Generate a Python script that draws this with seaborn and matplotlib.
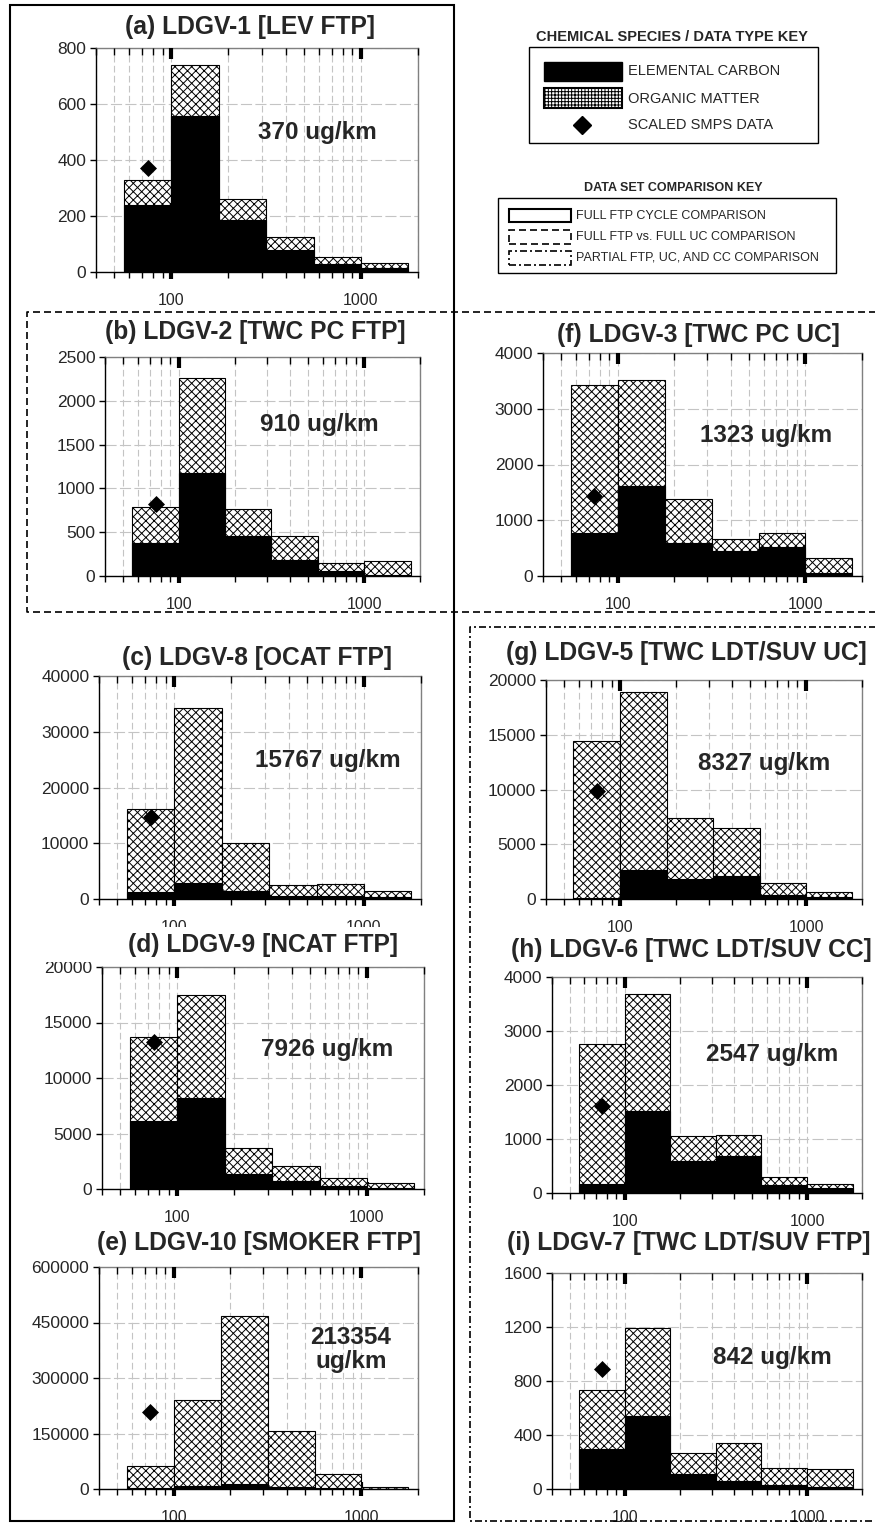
import numpy as np
import pandas as pd
import matplotlib
matplotlib.use("Agg")
import matplotlib.pyplot as plt
from matplotlib.patches import Rectangle
from matplotlib.lines import Line2D
from matplotlib.ticker import FixedLocator, FixedFormatter, NullFormatter
import seaborn as sns

sns.set_style("white")
plt.rcParams["font.family"] = ["Liberation Sans", "DejaVu Sans"]
plt.rcParams["hatch.linewidth"] = 0.7
plt.rcParams["hatch.color"] = "black"

# ---------------------------------------------------------------------------
# Size bins (particle diameter, nm) and SMPS reference diameter
size_edges = [56.2, 100, 177.8, 316.2, 562.3, 1000, 1778]
smps_size = 75

# Elemental carbon (ec) and organic matter (om) per size bin, plus scaled SMPS
ec_a = [239, 557, 186, 79, 30, 14]
om_a = [91, 183, 75, 47, 24, 19]
smps_a = 371

ec_b = [380, 1176, 457, 179, 53, 15]
om_b = [408, 1088, 312, 281, 95, 160]
smps_b = 826

ec_c = [1190, 2860, 1370, 500, 480, 360]
om_c = [14900, 31420, 8650, 2000, 2200, 1010]
smps_c = 14780

ec_d = [6170, 8170, 1380, 690, 300, 90]
om_d = [7480, 9350, 2300, 1380, 690, 420]
smps_d = 13260

ec_e = [1500, 8100, 12600, 6000, 3000, 1000]
om_e = [59800, 233300, 455900, 151700, 38400, 4400]
smps_e = 207200

ec_f = [768, 1607, 600, 456, 516, 48]
om_f = [2650, 1907, 773, 216, 252, 276]
smps_f = 1439

ec_g = [60, 2680, 1820, 2070, 400, 180]
om_g = [14350, 16200, 5600, 4380, 1030, 490]
smps_g = 9880

ec_h = [170, 1510, 600, 680, 140, 90]
om_h = [2590, 2170, 450, 390, 160, 80]
smps_h = 1620

ec_i = [300, 540, 110, 60, 30, 15]
om_i = [430, 655, 155, 280, 125, 130]
smps_i = 886

titles = {
    "a": "(a) LDGV-1 [LEV FTP]",
    "b": "(b) LDGV-2 [TWC PC FTP]",
    "c": "(c) LDGV-8 [OCAT FTP]",
    "d": "(d) LDGV-9 [NCAT FTP]",
    "e": "(e) LDGV-10 [SMOKER FTP]",
    "f": "(f) LDGV-3 [TWC PC UC]",
    "g": "(g) LDGV-5 [TWC LDT/SUV UC]",
    "h": "(h) LDGV-6 [TWC LDT/SUV CC]",
    "i": "(i) LDGV-7 [TWC LDT/SUV FTP]",
}
emission_labels = {
    "a": "370 ug/km", "b": "910 ug/km", "c": "15767 ug/km",
    "d": "7926 ug/km", "e": "213354\nug/km", "f": "1323 ug/km",
    "g": "8327 ug/km", "h": "2547 ug/km", "i": "842 ug/km",
}
y_ticks = {
    "a": [0, 200, 400, 600, 800],
    "b": [0, 500, 1000, 1500, 2000, 2500],
    "c": [0, 10000, 20000, 30000, 40000],
    "d": [0, 5000, 10000, 15000, 20000],
    "e": [0, 150000, 300000, 450000, 600000],
    "f": [0, 1000, 2000, 3000, 4000],
    "g": [0, 5000, 10000, 15000, 20000],
    "h": [0, 1000, 2000, 3000, 4000],
    "i": [0, 400, 800, 1200, 1600],
}
x_major = [100, 1000]
x_minor = [40, 50, 60, 70, 80, 90, 200, 300, 400, 500, 600, 700, 800, 900, 2000]

# ---------------------------------------------------------------------------
W, H = 875, 1524
fig = plt.figure(figsize=(W / 100, H / 100), dpi=100)
fig.patch.set_facecolor("white")


def fx(x):
    return x / W


def fy(y):
    return 1 - y / H


def axes_px(left, top, right, bottom):
    return fig.add_axes([fx(left), fy(bottom), (right - left) / W, (bottom - top) / H])


layout = {
    # key: (axes box in px, title centre in px, emission label pos in axes coords)
    "a": ((96, 48, 418, 272), (250, 27), (0.686, 0.625)),
    "b": ((105, 357, 420, 576), (255, 332), (0.68, 0.69)),
    "f": ((543, 353, 862, 576), (698, 335), (0.70, 0.63)),
    "c": ((99, 676, 421, 899), (257, 658), (0.71, 0.62)),
    "g": ((546, 680, 862, 899), (686, 653), (0.69, 0.62)),
    "d": ((102, 967, 424, 1189), (263, 945), (0.70, 0.63)),
    "h": ((552, 977, 862, 1193), (691, 950), (0.71, 0.64)),
    "e": ((99, 1267, 418, 1489), (259, 1243), (0.79, 0.63)),
    "i": ((552, 1273, 862, 1489), (689, 1243), (0.71, 0.61)),
}
series = {
    "a": (ec_a, om_a, smps_a), "b": (ec_b, om_b, smps_b), "c": (ec_c, om_c, smps_c),
    "d": (ec_d, om_d, smps_d), "e": (ec_e, om_e, smps_e), "f": (ec_f, om_f, smps_f),
    "g": (ec_g, om_g, smps_g), "h": (ec_h, om_h, smps_h), "i": (ec_i, om_i, smps_i),
}

log_bins = [float(v) for v in np.log10(size_edges)]
bin_centres = np.sqrt(np.multiply(size_edges[:-1], size_edges[1:]))
GRID = "#c4c4c4"

for key, (box, tpos, npos) in layout.items():
    ec, om, smps = series[key]
    bins_df = pd.DataFrame({
        "size": bin_centres,
        "ec": np.asarray(ec, dtype=float),
        "total": np.add(ec, om).astype(float),
    })
    ax = axes_px(*box)
    ax.set_axisbelow(True)

    # organic matter stacked on elemental carbon: hatched full column, EC overlaid
    sns.histplot(data=bins_df, x="size", weights="total", bins=log_bins, log_scale=True,
                 stat="count", element="bars", color="white", alpha=1,
                 edgecolor="black", linewidth=0.8, hatch="xxxx", ax=ax, zorder=2)
    sns.histplot(data=bins_df, x="size", weights="ec", bins=log_bins, log_scale=True,
                 stat="count", element="bars", color="black", alpha=1,
                 edgecolor="black", linewidth=0.8, ax=ax, zorder=3)
    sns.scatterplot(x=[smps_size], y=[smps], marker="D", s=75, color="black",
                    edgecolor="black", linewidth=0, ax=ax, zorder=4, legend=False)

    yt = y_ticks[key]
    ax.set_xlim(40, 2000)
    ax.set_ylim(0, yt[-1])
    ax.yaxis.set_major_locator(FixedLocator(yt))
    ax.yaxis.set_major_formatter(FixedFormatter([str(v) for v in yt]))
    ax.xaxis.set_major_locator(FixedLocator(x_major))
    ax.xaxis.set_major_formatter(FixedFormatter([str(v) for v in x_major]))
    ax.xaxis.set_minor_locator(FixedLocator(x_minor))
    ax.xaxis.set_minor_formatter(NullFormatter())
    ax.set_xlabel("")
    ax.set_ylabel("")

    ax.grid(True, axis="x", which="both", color=GRID, linestyle=(0, (6, 3)), linewidth=0.8)
    ax.grid(True, axis="y", which="major", color=GRID, linestyle=(0, (10, 3)), linewidth=0.8)

    ax.tick_params(axis="x", which="major", bottom=True, top=False, direction="inout",
                   length=10, width=3, pad=10, labelsize=11.5, color="black")
    ax.tick_params(axis="x", which="minor", bottom=True, top=False, direction="out",
                   length=4, width=1, color="black")
    ax.tick_params(axis="y", which="major", left=True, direction="out", length=4,
                   width=1, pad=3, labelsize=12.5, color="black")
    for side in ("left", "bottom"):
        ax.spines[side].set_color("black")
        ax.spines[side].set_linewidth(1.0)
    for side in ("top", "right"):
        ax.spines[side].set_color("#808080")
        ax.spines[side].set_linewidth(1.0)

    # inward ticks along the top edge
    top = ax.twiny()
    top.set_xscale("log")
    top.set_xlim(40, 2000)
    top.xaxis.set_major_locator(FixedLocator(x_major))
    top.xaxis.set_minor_locator(FixedLocator(x_minor))
    top.xaxis.set_major_formatter(NullFormatter())
    top.xaxis.set_minor_formatter(NullFormatter())
    top.tick_params(axis="x", which="major", top=True, bottom=False, direction="in",
                    length=8, width=3, color="black", labeltop=False)
    top.tick_params(axis="x", which="minor", top=True, bottom=False, direction="in",
                    length=5, width=1, color="black", labeltop=False)
    for s in top.spines.values():
        s.set_visible(False)

    ax.text(npos[0], npos[1], emission_labels[key], transform=ax.transAxes,
            ha="center", va="center", fontsize=17.5, fontweight="bold",
            linespacing=1.05, zorder=6)
    fig.text(fx(tpos[0]), fy(tpos[1]), titles[key], ha="center", va="center",
             fontsize=17.7, fontweight="bold")

# white band where the (d) heading overlaps the (c) axis labels
fig.add_artist(Rectangle((fx(15), fy(962)), fx(450) - fx(15), fy(927) - fy(962),
                         transform=fig.transFigure, facecolor="white",
                         edgecolor="none", zorder=0.5))

# ---------------------------------------------------------------------------
# Group frames
fig.add_artist(Rectangle((fx(10), fy(1521)), fx(454) - fx(10), fy(5) - fy(1521),
                         transform=fig.transFigure, fill=False, edgecolor="black",
                         linewidth=1.5, zorder=5))
fig.add_artist(Line2D([fx(880), fx(27), fx(27), fx(880)],
                      [fy(312), fy(312), fy(612), fy(612)],
                      transform=fig.transFigure, color="black", linewidth=1.2,
                      linestyle=(0, (4.2, 2.4)), zorder=5))
fig.add_artist(Line2D([fx(880), fx(470), fx(470), fx(880)],
                      [fy(627), fy(627), fy(1521), fy(1521)],
                      transform=fig.transFigure, color="black", linewidth=1.2,
                      linestyle=(0, (4.2, 1.8, 1.2, 1.8)), zorder=5))


def rect_px(x0, y0, x1, y1, **kw):
    fig.add_artist(Rectangle((fx(x0), fy(y1)), fx(x1) - fx(x0), fy(y0) - fy(y1),
                             transform=fig.transFigure, **kw))


# Chemical species / data type key
fig.text(fx(672), fy(37), "CHEMICAL SPECIES / DATA TYPE KEY", ha="center",
         va="center", fontsize=10.5, fontweight="bold")
rect_px(529, 47, 818, 143, fill=False, edgecolor="black", linewidth=1.0)
rect_px(544, 62, 622, 81, facecolor="black", edgecolor="black", linewidth=1.0)
rect_px(544, 88, 622, 108, facecolor="white", edgecolor="black", linewidth=1.5,
        hatch="+++++")
fig.add_artist(Line2D([fx(582)], [fy(125)], transform=fig.transFigure, marker="D",
                      markersize=8.7, color="black", linestyle="none"))
for label, yy in (("ELEMENTAL CARBON", 71), ("ORGANIC MATTER", 99),
                  ("SCALED SMPS DATA", 125)):
    fig.text(fx(628), fy(yy), label, ha="left", va="center", fontsize=10.5)

# Data set comparison key
fig.text(fx(673), fy(188), "DATA SET COMPARISON KEY", ha="center", va="center",
         fontsize=9, fontweight="bold")
rect_px(498, 198, 836, 273, fill=False, edgecolor="black", linewidth=1.0)
rect_px(509, 209, 571, 222, fill=False, edgecolor="black", linewidth=1.5)
rect_px(509, 230, 571, 244, fill=False, edgecolor="black", linewidth=1.2,
        linestyle=(0, (4.2, 2.4)))
rect_px(509, 251, 571, 265, fill=False, edgecolor="black", linewidth=1.2,
        linestyle=(0, (4.2, 1.8, 1.2, 1.8)))
for label, yy in (("FULL FTP CYCLE COMPARISON", 216),
                  ("FULL FTP vs. FULL UC COMPARISON", 237),
                  ("PARTIAL FTP, UC, AND CC COMPARISON", 258)):
    fig.text(fx(576), fy(yy), label, ha="left", va="center", fontsize=9)

fig.savefig("out.png", dpi=100, facecolor="white")
